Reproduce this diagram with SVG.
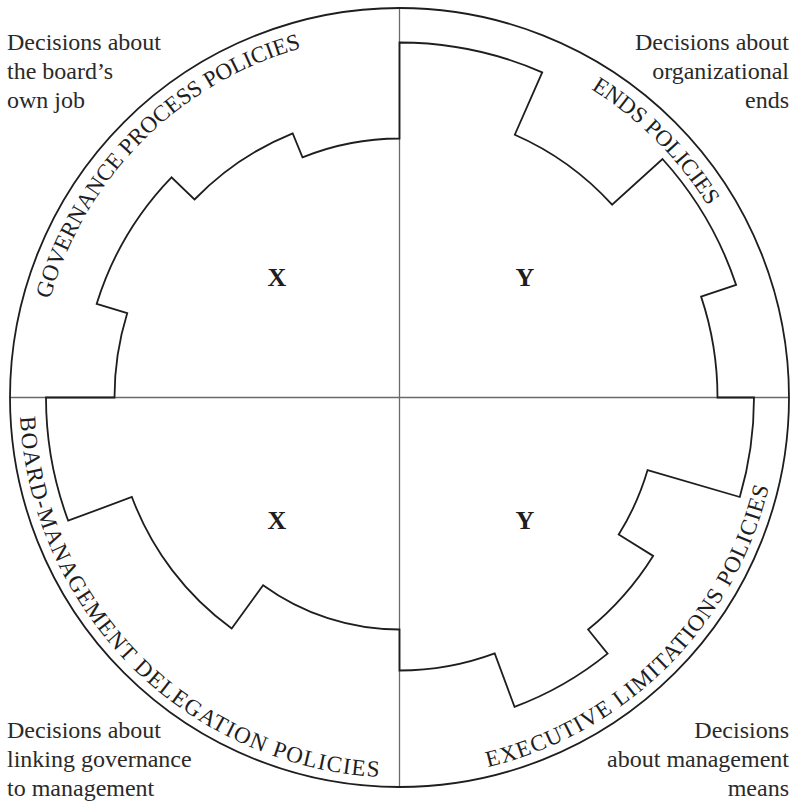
<svg xmlns="http://www.w3.org/2000/svg" xmlns:xlink="http://www.w3.org/1999/xlink" width="794" height="803" viewBox="0 0 794 803">
<style>
.ring{fill:none;stroke:#1e1e1e;stroke-width:1.8}
.div{fill:none;stroke:#6a6a6a;stroke-width:1.3}
.cog{fill:none;stroke:#1e1e1e;stroke-width:1.8;stroke-linejoin:miter}
.arc{font-family:"Liberation Serif","Times New Roman",serif;font-size:23px;fill:#1e1e1e}
.note{font-family:"Liberation Serif","Times New Roman",serif;font-size:24px;fill:#2a2a2a}
.big{font-family:"Liberation Serif","Times New Roman",serif;font-size:26px;font-weight:bold;fill:#1e1e1e;text-anchor:middle}
</style>
<defs>
<path id="pTL" d="M 36.5,397.5 A 363 363 0 0 1 399.5,34.5"/>
<path id="pTR" d="M 399.5,34.5 A 363 363 0 0 1 762.5,397.5"/>
<path id="pBL" d="M 19.5,397.5 A 380 380 0 0 0 399.5,777.5"/>
<path id="pBR" d="M 399.5,777.5 A 380 380 0 0 0 779.5,397.5"/>
</defs>
<rect width="794" height="803" fill="#ffffff"/>
<g id="connectors">
<line class="div" x1="399.5" y1="8" x2="399.5" y2="787"/>
<line class="div" x1="10" y1="397.5" x2="789" y2="397.5"/>
</g>
<g id="outer-circle">
<circle class="ring" cx="399.5" cy="397.5" r="389.5"/>
</g>
<g id="cog">
<path class="cog" d="M 114.5,397.5 A 285 285 0 0 1 127.2,313.2 L 96.7,303.8 A 317 317 0 0 1 171.5,177.3 L 194.5,199.5 A 285 285 0 0 1 292.7,133.3 L 302.5,157.4 A 259 259 0 0 1 399.5,138.5 L 399.5,42.5 A 355 355 0 0 1 542.2,72.4 L 514.8,134.7 A 287 287 0 0 1 612.1,204.7 L 662.5,159.0 A 355 355 0 0 1 736.1,284.9 L 701.1,296.6 A 318 318 0 0 1 717.5,397.5 L 754,397.5 A 354.5 354.5 0 0 1 739.8,497.0 L 647.6,470.1 A 258.5 258.5 0 0 1 618.7,534.5 L 653.1,555.9 A 299 299 0 0 1 588.1,629.5 L 607.6,653.6 A 330 330 0 0 1 514.5,706.8 L 494.7,653.4 A 273 273 0 0 1 399.5,670.5 L 399.5,629.5 A 232 232 0 0 1 263.1,585.2 L 231.7,628.5 A 285.5 285.5 0 0 1 131.9,497.0 L 68.2,520.7 A 353.5 353.5 0 0 1 46,397.5 Z"/>
</g>
<g id="governance-process">
<text class="arc" text-anchor="middle"><textPath xlink:href="#pTL" href="#pTL" startOffset="50%">GOVERNANCE PROCESS POLICIES</textPath></text>
<text class="big" x="277" y="286">X</text>
<text class="note"><tspan x="7" y="50">Decisions about</tspan><tspan x="7" y="79">the board’s</tspan><tspan x="7" y="108">own job</tspan></text>
</g>
<g id="ends">
<text class="arc" text-anchor="middle"><textPath xlink:href="#pTR" href="#pTR" startOffset="50%">ENDS POLICIES</textPath></text>
<text class="big" x="525" y="286">Y</text>
<text class="note" text-anchor="end"><tspan x="789" y="50">Decisions about</tspan><tspan x="789" y="79">organizational</tspan><tspan x="789" y="108">ends</tspan></text>
</g>
<g id="board-management-delegation">
<text class="arc" text-anchor="middle" letter-spacing="1.3"><textPath xlink:href="#pBL" href="#pBL" startOffset="50%">BOARD-MANAGEMENT DELEGATION POLICIES</textPath></text>
<text class="big" x="277" y="529">X</text>
<text class="note"><tspan x="7" y="738">Decisions about</tspan><tspan x="7" y="767">linking governance</tspan><tspan x="7" y="796">to management</tspan></text>
</g>
<g id="executive-limitations">
<text class="arc" text-anchor="middle" letter-spacing="1.1"><textPath xlink:href="#pBR" href="#pBR" startOffset="50%">EXECUTIVE LIMITATIONS POLICIES</textPath></text>
<text class="big" x="525" y="529">Y</text>
<text class="note" text-anchor="end"><tspan x="789" y="738">Decisions</tspan><tspan x="789" y="767">about management</tspan><tspan x="789" y="796">means</tspan></text>
</g>
</svg>
